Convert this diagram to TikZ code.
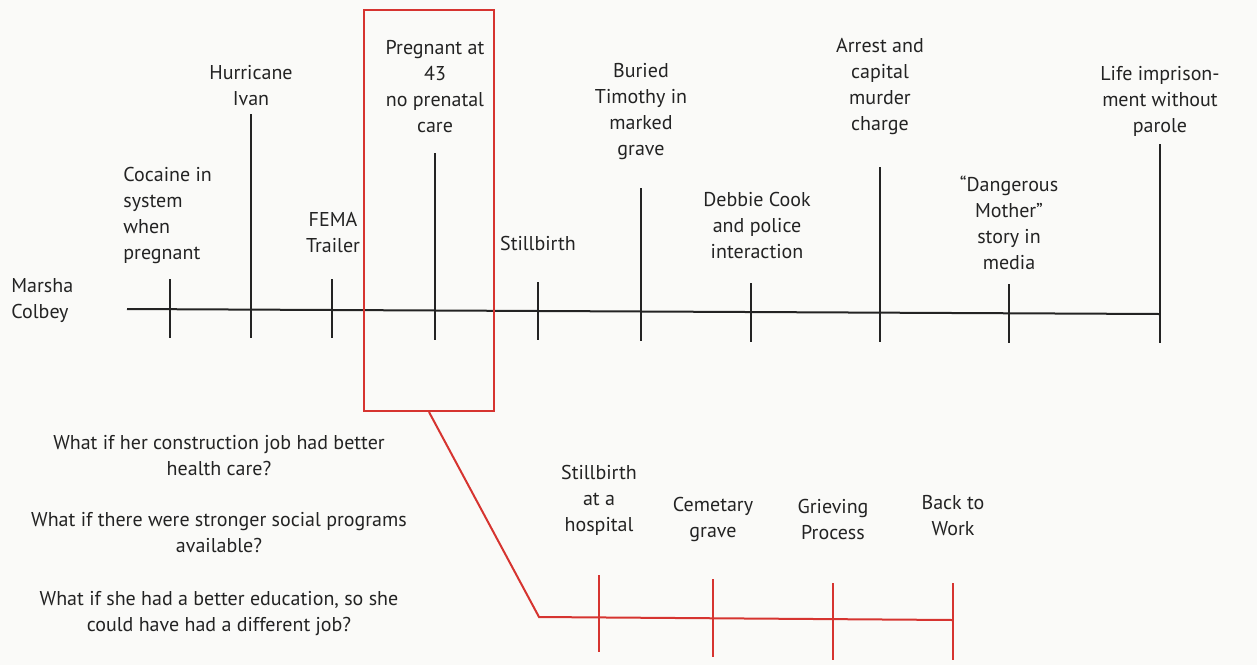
\documentclass[tikz,border=0pt]{standalone}
\usepackage{fontspec}
\setmainfont{PT Sans}
\usetikzlibrary{positioning,fit}

\definecolor{inkgray}{RGB}{35,35,35}
\definecolor{whatifred}{RGB}{214,52,48}
\definecolor{paper}{RGB}{250,250,248}

\begin{document}
\begin{tikzpicture}[%
x=0.5pt,
y={(0pt,-0.5pt)},
event/.style={align=center, text=inkgray, inner sep=0pt,
  font=\fontsize{10}{13}\selectfont},
tick/.style={line width=1pt, inkgray},
redtick/.style={line width=1pt, whatifred}
]

% paper
\fill[paper] (0,0) rectangle (1257,665);

% main time line
\coordinate (start) at (127,309);
\coordinate (end) at (1160,314);
\draw[tick] (start) -- (end);

\foreach \n/\x/\t/\b in {coc/170/279/338, ivan/251/114/338, fema/332/279/338,
  preg/435/153/340, still/538/282/340, buried/641/188/341, debbie/751/283/342,
  arrest/880/167/342, media/1009/284/343, life/1160/144/343}
{
  \coordinate (\n-t) at (\x,\t);
  \coordinate (\n-b) at (\x,\b);
  \draw[tick] (\n-t) -- (\n-b);
}

\node[event, anchor=west, align=left] (name) at (11,301) {Marsha\\Colbey};
\node[event, anchor=west, align=left] (cocaine) at (123,215) {Cocaine in\\system\\when\\pregnant};
\node[event] (hurricane) at (251,86) {Hurricane\\Ivan};
\node[event] (trailer) at (333,233) {FEMA\\Trailer};
\node[event] (pregnant) at (435,87) {Pregnant at\\43\\no prenatal\\care};
\node[event] (stillbirth) at (538,243) {Stillbirth};
\node[event] (grave) at (641,112) {Buried\\Timothy in\\marked\\grave};
\node[event] (police) at (757,225) {Debbie Cook\\and police\\interaction};
\node[event] (charge) at (880,87) {Arrest and\\capital\\murder\\charge};
\node[event] (story) at (1009,223) {``Dangerous\\Mother''\\story in\\media};
\node[event] (prison) at (1160,101) {Life imprison-\\ment without\\parole};

% focus box
\coordinate (boxNW) at (364,10);
\coordinate (boxSE) at (494,411);
\node[draw=whatifred, line width=1pt, fit=(boxNW)(boxSE), inner sep=0pt] (focus) {};

% what if questions
\node[event] (q1) at (219,456) {What if her construction job had better\\health care?};
\node[event] (q2) at (219,533) {What if there were stronger social programs\\available?};
\node[event] (q3) at (219,614) {What if she had a better education, so she\\could have had a different job?};

% alternative time line
\coordinate (bend) at (539,617);
\coordinate (altend) at (953,620);
\draw[redtick] (focus.south) -- (bend) -- (altend);

\foreach \n/\x/\t/\b in {hosp/599/575/652, cem/713/579/657, grief/833/583/660, work/953/583/660}
{
  \coordinate (\n-t) at (\x,\t);
  \coordinate (\n-b) at (\x,\b);
  \draw[redtick] (\n-t) -- (\n-b);
}

\node[event] (hospital) at (599,500) {Stillbirth\\at a\\hospital};
\node[event] (cemetary) at (713,519) {Cemetary\\grave};
\node[event] (grieving) at (833,519) {Grieving\\Process};
\node[event] (backwork) at (953,516) {Back to\\Work};

\end{tikzpicture}
\end{document}
